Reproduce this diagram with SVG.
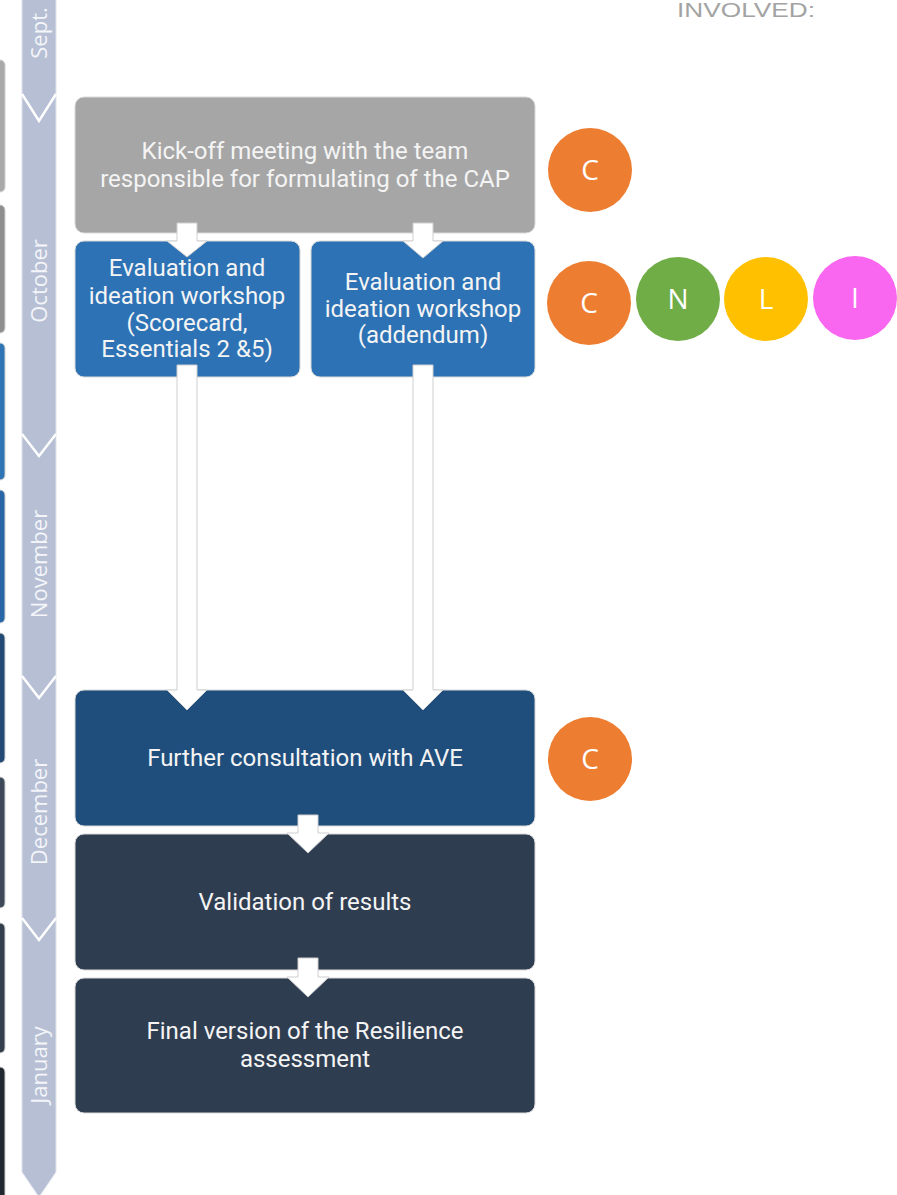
<svg xmlns="http://www.w3.org/2000/svg" width="897" height="1195" viewBox="0 0 897 1195">
<style>
.box{stroke:#d9d9d9;stroke-width:1}
.bt{font-family:Roboto,"Liberation Sans",sans-serif;font-size:24px;fill:#f4f4f4;text-anchor:middle}
.mon{font-family:"Open Sans","Liberation Sans",sans-serif;font-size:22px;fill:#f3f5f9;text-anchor:middle}
.cl{font-family:"Open Sans","Liberation Sans",sans-serif;font-size:28px;fill:#ffffff;text-anchor:middle}
.arr{fill:#ffffff;stroke:#cfcfcf;stroke-width:1}
.sep{fill:none;stroke:#ffffff;stroke-width:2.5}
</style>
<rect width="897" height="1195" fill="#ffffff"/>

<g id="left-edge">
<rect x="-10" y="60" width="15" height="132" rx="5" fill="#a9a9a9" stroke="#d0d0d0"/>
<rect x="-10" y="205" width="15" height="128" rx="5" fill="#8e8e8e" stroke="#d0d0d0"/>
<rect x="-10" y="343" width="15" height="137" rx="5" fill="#2e75b6" stroke="#d0d0d0"/>
<rect x="-10" y="490" width="15" height="133" rx="5" fill="#2866a8" stroke="#d0d0d0"/>
<rect x="-10" y="633" width="15" height="130" rx="5" fill="#234a74" stroke="#d0d0d0"/>
<rect x="-10" y="777" width="15" height="131" rx="5" fill="#3d4859" stroke="#d0d0d0"/>
<rect x="-10" y="923" width="15" height="130" rx="5" fill="#343e4d" stroke="#d0d0d0"/>
<rect x="-10" y="1067" width="15" height="140" rx="5" fill="#22282f" stroke="#d0d0d0"/>
</g>

<g id="timeline">
<path d="M22,-5 L56,-5 L56,1172 L39,1197 L22,1172 Z" fill="#b6bfd4" stroke="#dfe3ec" stroke-width="1"/>
<polyline class="sep" points="22,94 39,121 56,94"/>
<polyline class="sep" points="22,434 39,456 56,434"/>
<polyline class="sep" points="22,676 39,698 56,676"/>
<polyline class="sep" points="22,918 39,940 56,918"/>
<text class="mon" transform="translate(47,33) rotate(-90)">Sept.</text>
<text class="mon" transform="translate(47,281) rotate(-90)">October</text>
<text class="mon" transform="translate(47,564) rotate(-90)">November</text>
<text class="mon" transform="translate(47,812) rotate(-90)">December</text>
<text class="mon" transform="translate(47,1065) rotate(-90)">January</text>
</g>

<g id="involved">
<text x="677" y="17" font-family="'Liberation Sans',Arial,sans-serif" font-size="21" fill="#a3a3a3" textLength="138" lengthAdjust="spacingAndGlyphs">INVOLVED:</text>
</g>

<g id="kickoff">
<rect class="box" x="75" y="97" width="460" height="136" rx="9" fill="#a6a6a6"/>
<text class="bt" x="305" y="159">Kick-off meeting with the team</text>
<text class="bt" x="305" y="187">responsible for formulating of the CAP</text>
</g>

<g id="workshop1">
<rect class="box" x="75" y="241" width="225" height="136" rx="9" fill="#2c72b4"/>
<text class="bt" x="187" y="276">Evaluation and</text>
<text class="bt" x="187" y="304">ideation workshop</text>
<text class="bt" x="187" y="331">(Scorecard,</text>
<text class="bt" x="187" y="357">Essentials 2 &amp;5)</text>
</g>

<g id="workshop2">
<rect class="box" x="311" y="241" width="224" height="136" rx="9" fill="#2c72b4"/>
<text class="bt" x="423" y="290">Evaluation and</text>
<text class="bt" x="423" y="317">ideation workshop</text>
<text class="bt" x="423" y="343">(addendum)</text>
</g>

<g id="consultation">
<rect class="box" x="75" y="690" width="460" height="136" rx="9" fill="#1f4e7c"/>
<text class="bt" x="305" y="766">Further consultation with AVE</text>
</g>

<g id="validation">
<rect class="box" x="75" y="834" width="460" height="136" rx="9" fill="#2f3d51"/>
<text class="bt" x="305" y="910">Validation of results</text>
</g>

<g id="final">
<rect class="box" x="75" y="978" width="460" height="135" rx="9" fill="#2f3d51"/>
<text class="bt" x="305" y="1039">Final version of the Resilience</text>
<text class="bt" x="305" y="1067">assessment</text>
</g>

<g id="connectors">
<path class="arr" d="M177,223 L197,223 L197,241 L207,241 L187,257 L167,241 L177,241 Z"/>
<path class="arr" d="M413,223 L433,223 L433,241 L443,241 L423,258 L403,241 L413,241 Z"/>
<path class="arr" d="M177,365 L197,365 L197,690 L207,690 L187,710 L167,690 L177,690 Z"/>
<path class="arr" d="M413,365 L433,365 L433,690 L443,690 L423,710 L403,690 L413,690 Z"/>
<path class="arr" d="M298,815 L318,815 L318,833 L329,833 L308,853 L287,833 L298,833 Z"/>
<path class="arr" d="M298,958 L318,958 L318,977 L329,977 L308,997 L287,977 L298,977 Z"/>
</g>

<g id="circle-c1">
<circle cx="590" cy="170" r="42" fill="#ed7d31"/>
<text class="cl" x="590" y="180">C</text>
</g>
<g id="circle-c2">
<circle cx="589" cy="303" r="42" fill="#ed7d31"/>
<text class="cl" x="589" y="313">C</text>
</g>
<g id="circle-n">
<circle cx="678" cy="299" r="42" fill="#70ad47"/>
<text class="cl" x="678" y="309">N</text>
</g>
<g id="circle-l">
<circle cx="766" cy="299" r="42" fill="#ffc000"/>
<text class="cl" x="766" y="309">L</text>
</g>
<g id="circle-i">
<circle cx="855" cy="298" r="42" fill="#f966f0"/>
<text class="cl" x="855" y="308">I</text>
</g>
<g id="circle-c3">
<circle cx="590" cy="759" r="42" fill="#ed7d31"/>
<text class="cl" x="590" y="769">C</text>
</g>
</svg>
